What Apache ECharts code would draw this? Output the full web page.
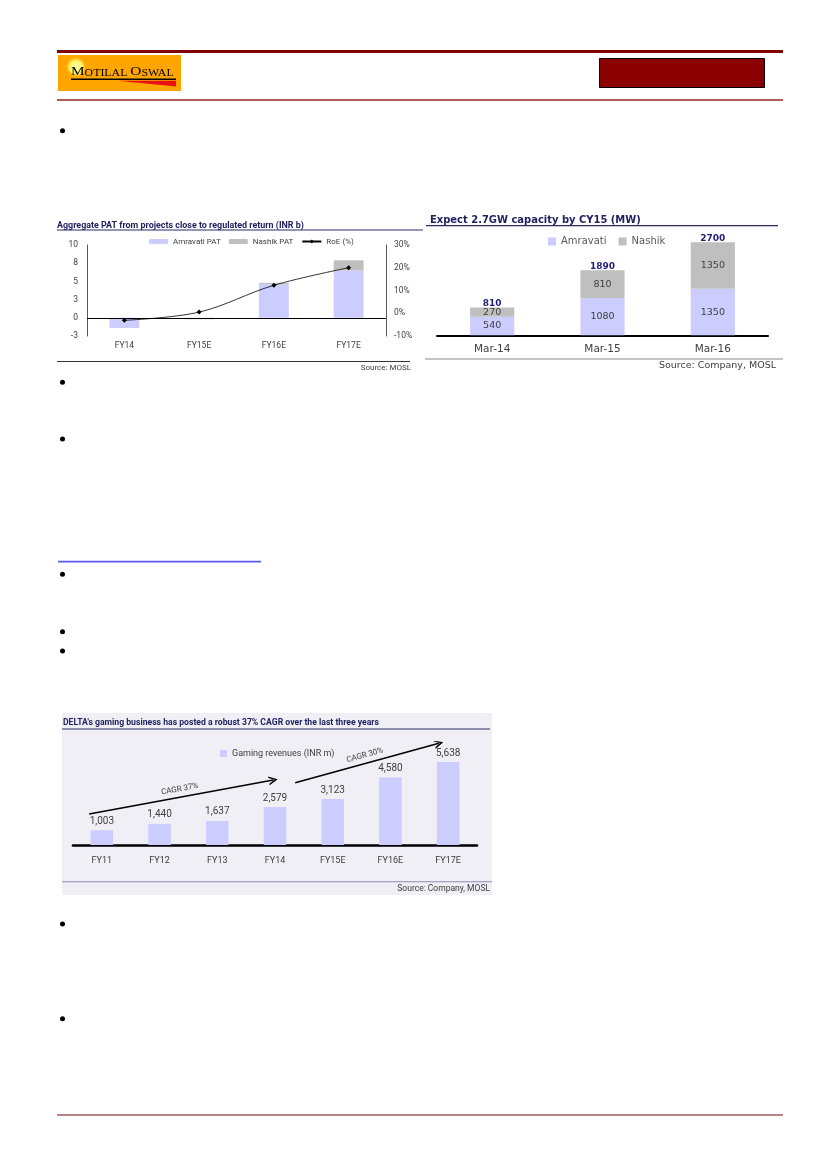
<!DOCTYPE html>
<html><head><meta charset="utf-8">
<script src="https://cdn.jsdelivr.net/npm/echarts@6/dist/echarts.min.js"></script>
<style>html,body{margin:0;padding:0;background:#fff;}#c{width:827px;height:1170px;}</style>
</head><body><div id="c"></div>
<script>
// ---- Chart 1: Aggregate PAT ----
const patCategories = ['FY14', 'FY15E', 'FY16E', 'FY17E'];
const patAmravati = [-1.4, 0, 4.6, 6.5];
const patNashik = [0, -0.2, 0.2, 1.4];
const patRoe = [-3.1, 0.5, 12.3, 20.0];
// ---- Chart 2: Capacity ----
const capCategories = ['Mar-14', 'Mar-15', 'Mar-16'];
const capAmravati = [540, 1080, 1350];
const capNashik = [270, 810, 1350];
const capTotal = [810, 1890, 2700];
// ---- Chart 3: Gaming revenues ----
const gamCategories = ['FY11', 'FY12', 'FY13', 'FY14', 'FY15E', 'FY16E', 'FY17E'];
const gamRevenue = [1003, 1440, 1637, 2579, 3123, 4580, 5638];
const cagrLabels = ['CAGR 37%', 'CAGR 30%'];
const cagrFrom = [[-0.22, 2106], [3.35, 4232]];
const cagrTo = [[2.97, 4416], [5.84, 6909]];

const NAVY = '#1f1f5e';
const GREY = '#404040';
const LAV = '#ccccff';
const GRAYBAR = '#bfbfbf';
const CAL = 'Roboto';
const VER = 'DejaVu Sans';

function txt(x, y, text, font, fill, align, scaleX) {
  return { type: 'text', x: x, y: y, scaleX: scaleX || 1, silent: true,
    style: { x: 0, y: 0, text: text, font: font, fill: fill, textAlign: align || 'left', textVerticalAlign: 'middle' } };
}
function rect(x, y, w, h, fill) {
  return { type: 'rect', silent: true, shape: { x: x, y: y, width: w, height: h }, style: { fill: fill } };
}
const bulletY = [130.7, 382.3, 439, 574.3, 631.7, 651, 924, 1018.7];

const graphics = [
  // header
  rect(57, 50, 726, 3, '#800000'),
  rect(58, 55, 123, 36, '#ffa500'),
  { type: 'circle', silent: true, shape: { cx: 76, cy: 67, r: 11 },
    style: { fill: { type: 'radial', x: 0.5, y: 0.5, r: 0.5, colorStops: [
      { offset: 0, color: '#ffffb0' }, { offset: 0.6, color: '#fff060' }, { offset: 1, color: 'rgba(255,165,0,0)' }] } } },
  { type: 'text', x: 71, y: 71.5, scaleX: 1.13, silent: true, style: { x: 0, y: 0,
    text: '{b|M}{s|OTILAL }{b|O}{s|SWAL}', textVerticalAlign: 'middle', textAlign: 'left',
    rich: { b: { fontFamily: 'Liberation Serif', fontSize: 13.5, fill: '#000', verticalAlign: 'bottom' },
            s: { fontFamily: 'Liberation Serif', fontSize: 10.5, fill: '#000', verticalAlign: 'bottom' } } } },
  rect(71, 78.5, 105, 1.6, '#000'),
  { type: 'polygon', silent: true, shape: { points: [[118, 80.8], [176, 80.8], [176, 86.5]] }, style: { fill: '#e81010' } },
  { type: 'rect', silent: true, shape: { x: 599.5, y: 58.5, width: 165, height: 29 }, style: { fill: '#8b0000', stroke: '#000', lineWidth: 1 } },
  rect(57, 99.3, 726, 1.5, '#9b2525'),
  rect(57, 1114.3, 726, 1.5, '#a05a5a'),
  rect(58, 560.8, 203, 1.6, '#5a5af0'),
  // chart 1 decorations
  txt(57, 225.5, 'Aggregate PAT from projects close to regulated return (INR b)', 'bold 9px ' + CAL, NAVY, 'left', 0.99),
  rect(57, 229.5, 366, 1, '#2a2a6a'),
  rect(57, 361, 353, 1, '#333344'),
  txt(411, 368, 'Source: MOSL', '8px ' + CAL, GREY, 'right'),
  // chart 2 decorations
  txt(430, 220.5, 'Expect 2.7GW capacity by CY15 (MW)', 'bold 10px ' + VER, NAVY, 'left', 0.995),
  rect(426, 225, 352, 1.3, '#2a2a6a'),
  rect(425, 358.5, 358, 1, '#8a8a8a'),
  txt(776, 366, 'Source: Company, MOSL', '9.5px ' + VER, GREY, 'right'),
  // chart 3 decorations
  { type: 'rect', silent: true, z: -10, shape: { x: 62, y: 713, width: 430, height: 182 }, style: { fill: '#efeff5' } },
  txt(63, 722.5, "DELTA's gaming business has posted a robust 37% CAGR over the last three years", 'bold 9px ' + CAL, NAVY, 'left', 0.96),
  rect(62, 728.5, 428, 1, '#2a2a6a'),
  rect(62, 881.2, 430, 1, '#8c8cb4'),
  txt(490, 888.5, 'Source: Company, MOSL', '8.5px ' + CAL, GREY, 'right')
];
bulletY.forEach(function (y) {
  graphics.push({ type: 'circle', silent: true, shape: { cx: 62.5, cy: y, r: 2.5 }, style: { fill: '#000' } });
});

const chevron = 'path://M5,0 L10,10 L8.2,10 L5,3.6 L1.8,10 L0,10 Z';

const option = {
  animation: false,
  backgroundColor: '#fff',
  graphic: { elements: graphics },
  legend: [
    { data: ['Amravati PAT', 'Nashik PAT', 'RoE (%)'], left: 149, top: 237.5, padding: 0, itemWidth: 19, itemHeight: 5, itemGap: 8,
      textStyle: { fontFamily: CAL, fontSize: 8, color: GREY }, selectedMode: false },
    { data: ['Amravati', 'Nashik'], left: 548, top: 236.5, padding: 0, icon: 'rect', itemWidth: 8, itemHeight: 8, itemGap: 12,
      textStyle: { fontFamily: VER, fontSize: 10, color: '#595959' }, selectedMode: false },
    { data: ['Gaming revenues (INR m)'], left: 220, top: 749, padding: 0, icon: 'rect', itemWidth: 7, itemHeight: 7,
      textStyle: { fontFamily: CAL, fontSize: 9, color: GREY }, selectedMode: false }
  ],
  grid: [
    { left: 87, top: 245, width: 299, height: 91 },
    { left: 437, top: 232, width: 331, height: 103.3 },
    { left: 73, top: 742, width: 404, height: 103 }
  ],
  xAxis: [
    { type: 'category', gridIndex: 0, data: patCategories, axisLine: { show: false }, axisTick: { show: false },
      axisLabel: { fontFamily: CAL, fontSize: 8.5, color: GREY, margin: 5 } },
    { type: 'category', gridIndex: 1, data: capCategories, axisLine: { lineStyle: { color: '#000', width: 2 } }, axisTick: { show: false },
      axisLabel: { fontFamily: VER, fontSize: 10.5, color: GREY, margin: 8 } },
    { type: 'category', gridIndex: 2, data: gamCategories, axisLine: { lineStyle: { color: '#000', width: 2.6 } }, axisTick: { show: false },
      axisLabel: { fontFamily: CAL, fontSize: 9, color: GREY, margin: 11 } },
    { type: 'value', gridIndex: 2, min: -0.5, max: 6.5, show: false }
  ],
  yAxis: [
    { type: 'value', gridIndex: 0, min: -2.5, max: 10, interval: 2.5, splitLine: { show: false },
      axisLine: { show: true, lineStyle: { color: '#595959' } }, axisTick: { show: false },
      axisLabel: { fontFamily: CAL, fontSize: 8.5, color: GREY, margin: 9,
        formatter: function (v) { return (v < 0 ? '-' : '') + Math.round(Math.abs(v)); } } },
    { type: 'value', gridIndex: 0, position: 'right', min: -10, max: 30, interval: 10, splitLine: { show: false },
      axisLine: { show: true, lineStyle: { color: '#595959' } }, axisTick: { show: false },
      axisLabel: { fontFamily: CAL, fontSize: 8.5, color: GREY, margin: 8, formatter: '{value}%' } },
    { type: 'value', gridIndex: 1, min: 0, max: 3000, show: false },
    { type: 'value', gridIndex: 2, min: 0, max: 7000, show: false }
  ],
  series: [
    { name: 'Amravati PAT', type: 'bar', xAxisIndex: 0, yAxisIndex: 0, stack: 'pat', data: patAmravati, barWidth: '40%',
      itemStyle: { color: LAV },
      markLine: { silent: true, symbol: 'none', label: { show: false }, lineStyle: { color: '#000', width: 1, type: 'solid' }, data: [{ yAxis: 0 }] } },
    { name: 'Nashik PAT', type: 'bar', xAxisIndex: 0, yAxisIndex: 0, stack: 'pat', data: patNashik, barWidth: '40%',
      itemStyle: { color: GRAYBAR } },
    { name: 'RoE (%)', type: 'line', xAxisIndex: 0, yAxisIndex: 1, data: patRoe, smooth: 0.35, symbol: 'diamond', symbolSize: 5,
      itemStyle: { color: '#000' }, lineStyle: { color: '#000', width: 0.8 } },

    { name: 'Amravati', type: 'bar', xAxisIndex: 1, yAxisIndex: 2, stack: 'cap', data: capAmravati, barWidth: '40%', barGap: '-100%',
      itemStyle: { color: LAV }, label: { show: true, position: 'inside', fontFamily: VER, fontSize: 9.5, color: GREY } },
    { name: 'Nashik', type: 'bar', xAxisIndex: 1, yAxisIndex: 2, stack: 'cap', data: capNashik, barWidth: '40%', barGap: '-100%',
      itemStyle: { color: GRAYBAR }, label: { show: true, position: 'inside', fontFamily: VER, fontSize: 9.5, color: GREY } },
    { name: 'Total', type: 'bar', xAxisIndex: 1, yAxisIndex: 2, data: capTotal, barWidth: '40%', barGap: '-100%', silent: true, z: 1,
      itemStyle: { color: 'rgba(0,0,0,0)' },
      label: { show: true, position: 'top', distance: -1, fontFamily: VER, fontWeight: 'bold', fontSize: 9, color: '#1f1f80' } },

    { name: 'Gaming revenues (INR m)', type: 'bar', xAxisIndex: 2, yAxisIndex: 3, data: gamRevenue, barWidth: '39%',
      itemStyle: { color: LAV },
      label: { show: true, position: 'top', distance: 4, fontFamily: CAL, fontSize: 10, color: GREY,
        formatter: function (p) { return p.value.toLocaleString('en-US'); } } },
    { name: 'CAGR', type: 'lines', coordinateSystem: 'cartesian2d', xAxisIndex: 3, yAxisIndex: 3, silent: true, z: 5,
      symbol: ['none', chevron], symbolSize: 9,
      lineStyle: { color: '#000', width: 1.5, opacity: 1, curveness: 0 },
      label: { show: true, position: 'insideMiddleTop', distance: 4, fontFamily: CAL, fontSize: 8, color: GREY },
      data: cagrLabels.map(function (l, i) { return { coords: [cagrFrom[i], cagrTo[i]], label: { formatter: l } }; }) }
  ]
};
const chart = echarts.init(document.getElementById('c'), null, { renderer: 'canvas' });
chart.setOption(option);
</script>
</body></html>
